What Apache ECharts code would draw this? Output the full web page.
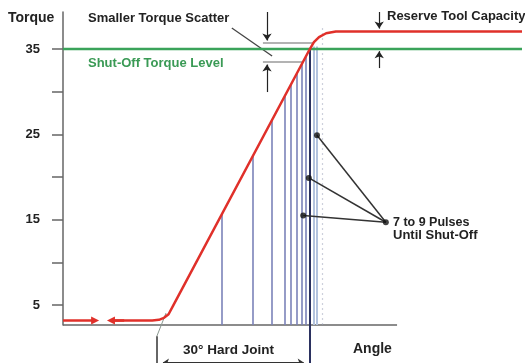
<!DOCTYPE html>
<html>
<head>
<meta charset="utf-8">
<script src="https://cdn.jsdelivr.net/npm/echarts@6/dist/echarts.min.js"></script>
<style>
  html, body { margin: 0; padding: 0; background: #fff; }
  #chart { width: 525px; height: 363px; }
</style>
</head>
<body>
<div id="chart"></div>
<script>
// Pulse-tool tightening on a hard joint: torque against rotation angle (degrees)

// torque curve of the tool
const curveAngle  = [9.2, 17.5, 18.8, 19.8, 20.7, 21.6, 48.4, 49.2, 50.2, 51.6, 53.5, 90];
const curveTorque = [3.2, 3.2, 3.27, 3.5, 3.92, 4.93, 35.0, 35.8, 36.4, 36.85, 37.05, 37.05];
const runDownTorque = 3.2;
const shutOffTorque = 35;

// individual pulses up to shut-off
const pulseAngle  = [31.2, 37.25, 41.0, 43.5, 44.7, 45.9, 46.9, 47.6];
const pulseTorque = [15.7, 22.5, 26.7, 29.5, 30.8, 32.2, 33.3, 34.1];
const shutOffAngle = 48.4;
const scatterPulseAngle  = [49.2, 49.8];
const scatterPulseTorque = [35.3, 35.3];
const scatterLimitAngle  = 50.8;
const scatterLimitTorque = 37.8;

// 30 degree hard joint span
const hardJointStart = 18.4;
const hardJointEnd   = 48.4;

// torque scatter band and reserve capacity markers
const scatterHigh = 35.7;
const scatterLow  = 33.48;
const scatterBandFrom = 39.2;
const scatterHighTo = 49.0;
const scatterLowTo  = 47.06;
const scatterArrowAngle = 40.0;
const reserveArrowAngle = 62.0;

// callout for the pulses
const calloutHub = [63.3, 14.7];
const calloutDots = [[49.8, 24.9], [48.2, 19.9], [47.1, 15.5]];

// axes
const angleMin = 0, angleMax = 90, angleAxisEnd = 65.5;
const torqueMin = 2.66, torqueMax = 39.34, belowAxis = -1.95, dimLine = -1.72;
const torqueTicks  = [5, 10, 15, 20, 25, 30, 35];
const torqueLabels = [5, 15, 25, 35];

const FONT = '"Liberation Sans", Arial, Helvetica, sans-serif';
const chart = echarts.init(document.getElementById('chart'));

function seg(a, b, style) {
  const item = { coords: [a, b] };
  if (style) item.lineStyle = style;
  return item;
}

function linesSeries(data, color, width, extra) {
  return Object.assign({
    type: 'lines',
    coordinateSystem: 'cartesian2d',
    clip: false,
    silent: true,
    symbol: 'none',
    lineStyle: { color: color, width: width, opacity: 1, type: 'solid' },
    data: data
  }, extra || {});
}

function text(str, x, y, opts) {
  return {
    type: 'text', x: x, y: y, silent: true,
    style: Object.assign({
      text: str, fontFamily: FONT, fontWeight: 'bold', fontSize: 13,
      fill: '#222', verticalAlign: 'middle', align: 'left'
    }, opts || {})
  };
}

const option = {
  animation: false,
  backgroundColor: '#fff',
  grid: { left: 63, right: 3, top: 12, bottom: 38, containLabel: false },
  xAxis: {
    type: 'value', min: angleMin, max: angleMax, show: false
  },
  yAxis: {
    type: 'value', min: torqueMin, max: torqueMax,
    axisLine: { show: true, lineStyle: { color: '#666', width: 1.5 } },
    axisTick: { show: true, customValues: torqueTicks, length: 11,
      lineStyle: { color: '#666', width: 1.5 } },
    axisLabel: { customValues: torqueLabels, margin: 23, color: '#222',
      fontWeight: 'bold', fontSize: 13, fontFamily: FONT },
    splitLine: { show: false }
  },
  graphic: [
    text('Torque', 8, 18, { fontSize: 14 }),
    text('Smaller Torque Scatter', 88, 18),
    text('Reserve Tool Capacity', 387, 16),
    text('Shut-Off Torque Level', 88, 63, { fill: '#3a9a55' }),
    text('7 to 9 Pulses', 393, 223, { fontSize: 12.5 }),
    text('Until Shut-Off', 393, 235),
    text('30\u00b0 Hard Joint', 183, 350, { fontSize: 13.5 }),
    text('Angle', 353, 349, { fontSize: 14 })
  ],
  series: [
    // x axis line (stops short of the plot's right edge)
    linesSeries([seg([angleMin, torqueMin], [angleAxisEnd, torqueMin])], '#666', 1.5),
    // shut-off torque level
    {
      type: 'line', silent: true, symbol: 'none',
      lineStyle: { color: '#3aa35a', width: 2.5 },
      data: [[angleMin, shutOffTorque], [angleMax, shutOffTorque]]
    },
    // pulses
    linesSeries(pulseAngle.map((a, i) => seg([a, torqueMin], [a, pulseTorque[i]])), '#7b83b9', 1.6),
    linesSeries(scatterPulseAngle.map((a, i) => seg([a, torqueMin], [a, scatterPulseTorque[i]])), '#b3c3de', 2),
    linesSeries([seg([scatterLimitAngle, torqueMin], [scatterLimitAngle, scatterLimitTorque])], '#9ca2ba', 1.2,
      { lineStyle: { color: '#9ca2ba', width: 1.2, type: [2, 3] } }),
    linesSeries([seg([shutOffAngle, belowAxis], [shutOffAngle, shutOffTorque])], '#2b3160', 2),
    // torque scatter band
    linesSeries([
      seg([scatterBandFrom, scatterHigh], [scatterHighTo, scatterHigh]),
      seg([scatterBandFrom, scatterLow], [scatterLowTo, scatterLow])
    ], '#9a9a9a', 1.5),
    // ramp extension down to the hard-joint bracket
    linesSeries([seg([20.2, 4.06], [hardJointStart, 1.34])], '#8a9890', 1),
    // torque curve
    {
      type: 'line', silent: true, symbol: 'none',
      lineStyle: { color: '#e0302a', width: 2.5 },
      data: curveAngle.map((a, i) => [a, curveTorque[i]])
    },
    // run-down arrows on the torque curve
    linesSeries([
      seg([angleMin, runDownTorque], [6.3, runDownTorque]),
      seg([12, runDownTorque], [9.4, runDownTorque])
    ], '#e0302a', 2.5, { symbol: ['none', 'triangle'], symbolSize: 8 }),
    // leader for "Smaller Torque Scatter"
    linesSeries([seg([33.1, 37.46], [41.0, 34.18])], '#444', 1.3),
    // dimension arrows
    linesSeries([
      seg([scatterArrowAngle, torqueMax], [scatterArrowAngle, scatterHigh + 0.3]),
      seg([scatterArrowAngle, 29.96], [scatterArrowAngle, scatterLow - 0.3]),
      seg([reserveArrowAngle, torqueMax], [reserveArrowAngle, 37.4]),
      seg([reserveArrowAngle, 32.77], [reserveArrowAngle, shutOffTorque - 0.25])
    ], '#222', 1.2, { symbol: ['none', 'arrow'], symbolSize: 7 }),
    // callout leaders to the pulses
    linesSeries(calloutDots.map(d => seg(calloutHub, d)), '#333', 1.5),
    {
      type: 'scatter', silent: true, symbol: 'circle', symbolSize: 6,
      itemStyle: { color: '#111' },
      data: calloutDots.concat([calloutHub])
    },
    // hard joint bracket
    linesSeries([seg([hardJointStart, 1.34], [hardJointStart, belowAxis])], '#333', 1.5),
    linesSeries([
      seg([hardJointStart + 1.2, dimLine], [hardJointEnd - 1.2, dimLine])
    ], '#333', 1.2, { symbol: ['arrow', 'arrow'], symbolSize: 6 })
  ]
};

chart.setOption(option);
</script>
</body>
</html>
